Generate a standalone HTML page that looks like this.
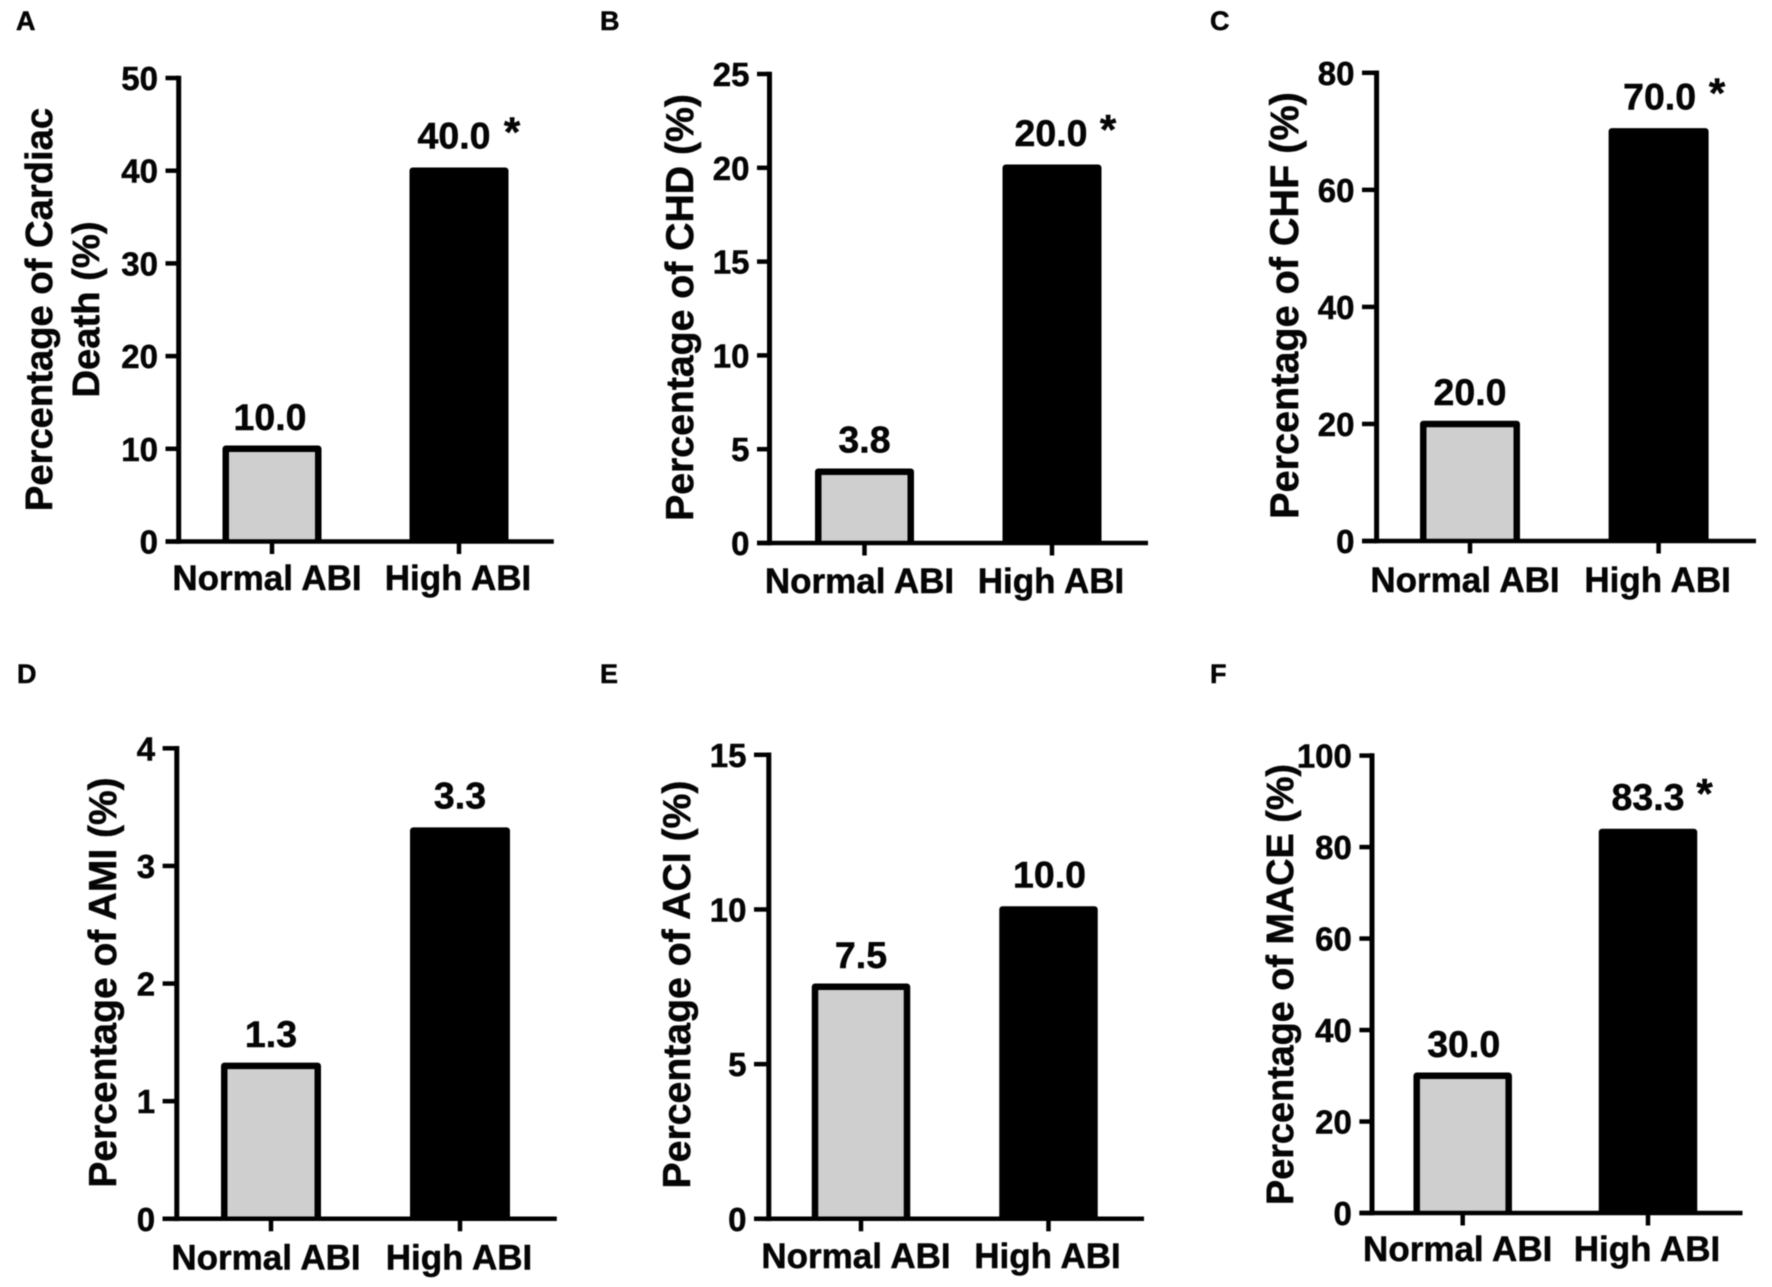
<!DOCTYPE html>
<html lang="en">
<head>
<meta charset="utf-8">
<title>ABI outcome bar charts</title>
<style>
  html,body{margin:0;padding:0;background:#fff;width:1772px;height:1287px;overflow:hidden}
  svg{display:block;filter:blur(0.45px)}
  text{font-family:"Liberation Sans",Arial,sans-serif;font-weight:bold;fill:#050505;stroke:#050505;stroke-width:0.5px}
</style>
</head>
<body>
<svg id="figure" xmlns="http://www.w3.org/2000/svg" width="1772" height="1287" viewBox="0 0 1772 1287"></svg>
<script>
const categories = ['Normal ABI', 'High ABI'];

const valuesA = [10.0, 40.0];
const valuesB = [3.8, 20.0];
const valuesC = [20.0, 70.0];
const valuesD = [1.3, 3.3];
const valuesE = [7.5, 10.0];
const valuesF = [30.0, 83.3];

const ticksA = [0, 10, 20, 30, 40, 50];
const ticksB = [0, 5, 10, 15, 20, 25];
const ticksC = [0, 20, 40, 60, 80];
const ticksD = [0, 1, 2, 3, 4];
const ticksE = [0, 5, 10, 15];
const ticksF = [0, 20, 40, 60, 80, 100];

const significantA = [false, true];
const significantB = [false, true];
const significantC = [false, true];
const significantD = [false, false];
const significantE = [false, false];
const significantF = [false, true];

const titleA = ['Percentage of Cardiac', 'Death (%)'];
const titleB = ['Percentage of CHD (%)'];
const titleC = ['Percentage of CHF (%)'];
const titleD = ['Percentage of AMI (%)'];
const titleE = ['Percentage of ACI (%)'];
const titleF = ['Percentage of MACE (%)'];

const SVG_NS = 'http://www.w3.org/2000/svg';
const root = document.getElementById('figure');

function make(tag, parent, attrs, content) {
  const el = document.createElementNS(SVG_NS, tag);
  for (const key in attrs) el.setAttribute(key, attrs[key]);
  if (content !== undefined) el.textContent = content;
  parent.appendChild(el);
  return el;
}

function drawPanel(p) {
  const group = make('g', root, {});
  
  

  const maxTick = p.ticks[p.ticks.length - 1];
  const yScale = v => p.base - (v / maxTick) * (p.base - p.top);
  const xScale = i => p.tick0 + i * (p.tick1 - p.tick0);

  const letter = make('text', group, {x: p.letterX, y: p.letterY, 'font-size': 27}, p.letter);
  
  

  p.title.forEach((line, i) => {
    const bx = p.titleXs[i];
    const t = make('text', group, {
      x: 0, y: 0, 'font-size': p.titleSize, 'text-anchor': 'middle',
      transform: 'translate(' + bx + ' ' + p.titleY + ') rotate(-90)'
    }, line);
    
    
  });

  p.values.forEach((v, i) => {
    const cx = xScale(i);
    const barTop = yScale(v);
    const stroke = 6.5;
    const left = cx - p.barW / 2 + stroke / 2;
    const right = cx + p.barW / 2 - stroke / 2;
    const bar = make('path', group, {
      d: 'M' + left + ' ' + p.base + 'V' + barTop + 'H' + right + 'V' + p.base,
      fill: i === 0 ? '#cfcfcf' : '#000',
      stroke: '#000',
      'stroke-width': stroke,
      'stroke-linejoin': 'round',
      'stroke-linecap': 'butt'
    });
    
    

    const gap = i === 0 ? 16 : 19;
    const labelY = barTop - 3 - gap;
    const label = make('text', group, {
      x: cx + (p.valueDx ? p.valueDx[i] : 0), y: labelY,
      'font-size': 37.5, 'text-anchor': 'middle'
    }, v.toFixed(1));
    
    

    if (p.significant[i]) {
      const star = make('text', group, {
        x: cx + p.starDx, y: labelY - 2,
        'font-size': 42, 'text-anchor': 'middle'
      }, '*');
      
      
    }
  });

  const yAxis = make('line', group, {x1: p.ax, x2: p.ax, y1: p.top - 2.3, y2: p.base + 2.3, stroke: '#000', 'stroke-width': 5});
  
  

  const xAxis = make('line', group, {x1: p.tickL, x2: p.right, y1: p.base, y2: p.base, stroke: '#000', 'stroke-width': 4.5});
  
  

  p.ticks.forEach(t => {
    const y = yScale(t);
    const mark = make('line', group, {x1: p.tickL, x2: p.ax, y1: y, y2: y, stroke: '#000', 'stroke-width': 4.5});
    
    
    const lab = make('text', group, {
      x: p.tickL - 7.5, y: y + 12, 'font-size': 33, 'text-anchor': 'end'
    }, String(t));
    
    
  });

  categories.forEach((c, i) => {
    const cx = xScale(i);
    const mark = make('line', group, {x1: cx, x2: cx, y1: p.base, y2: p.base + 12.5, stroke: '#000', 'stroke-width': 4.5});
    
    
    const lab = make('text', group, {
      x: cx + (i === 0 ? -5 : -1), y: p.labelY, 'font-size': 35, 'text-anchor': 'middle'
    }, c);
    
    
  });
}

drawPanel({letter: 'A', letterX: 16, letterY: 30, values: valuesA, ticks: ticksA, significant: significantA, title: titleA,
  titleXs: [52, 99], titleY: 309.5, titleSize: 38.2, ax: 178.7, top: 78, base: 541.5, tickL: 165.5, right: 553.8,
  tick0: 272, tick1: 459, barW: 99, starDx: 53, valueDx: [-2, -5], labelY: 590});
drawPanel({letter: 'B', letterX: 600, letterY: 30, values: valuesB, ticks: ticksB, significant: significantB, title: titleB,
  titleXs: [693], titleY: 307.5, titleSize: 39.2, ax: 769.5, top: 74, base: 543, tickL: 757, right: 1148,
  tick0: 864.5, tick1: 1052, barW: 99, starDx: 56, valueDx: [0, -1], labelY: 593});
drawPanel({letter: 'C', letterX: 1210, letterY: 30, values: valuesC, ticks: ticksC, significant: significantC, title: titleC,
  titleXs: [1298], titleY: 305.5, titleSize: 39.6, ax: 1376.6, top: 72.8, base: 541, tickL: 1362, right: 1756,
  tick0: 1470, tick1: 1658.6, barW: 100, starDx: 58.5, valueDx: [0, 1], labelY: 592});
drawPanel({letter: 'D', letterX: 17, letterY: 683, values: valuesD, ticks: ticksD, significant: significantD, title: titleD,
  titleXs: [116], titleY: 982.5, titleSize: 39, ax: 176.8, top: 748.3, base: 1218.8, tickL: 162.6, right: 556.8,
  tick0: 271, tick1: 460, barW: 100, starDx: 56, valueDx: [0, 0], labelY: 1269.5});
drawPanel({letter: 'E', letterX: 600, letterY: 683, values: valuesE, ticks: ticksE, significant: significantE, title: titleE,
  titleXs: [690], titleY: 984.5, titleSize: 39.2, ax: 768.8, top: 754.8, base: 1218.8, tickL: 754, right: 1144,
  tick0: 861, tick1: 1048.5, barW: 98.5, starDx: 56, valueDx: [0, 1], labelY: 1268});
drawPanel({letter: 'F', letterX: 1210, letterY: 683, values: valuesF, ticks: ticksF, significant: significantF, title: titleF,
  titleXs: [1293], titleY: 984.5, titleSize: 37.8, ax: 1372, top: 755.6, base: 1213, tickL: 1359.4, right: 1742.5,
  tick0: 1462.7, tick1: 1648, barW: 98.5, starDx: 56.5, valueDx: [1, 0], labelY: 1261});
</script>
</body>
</html>
